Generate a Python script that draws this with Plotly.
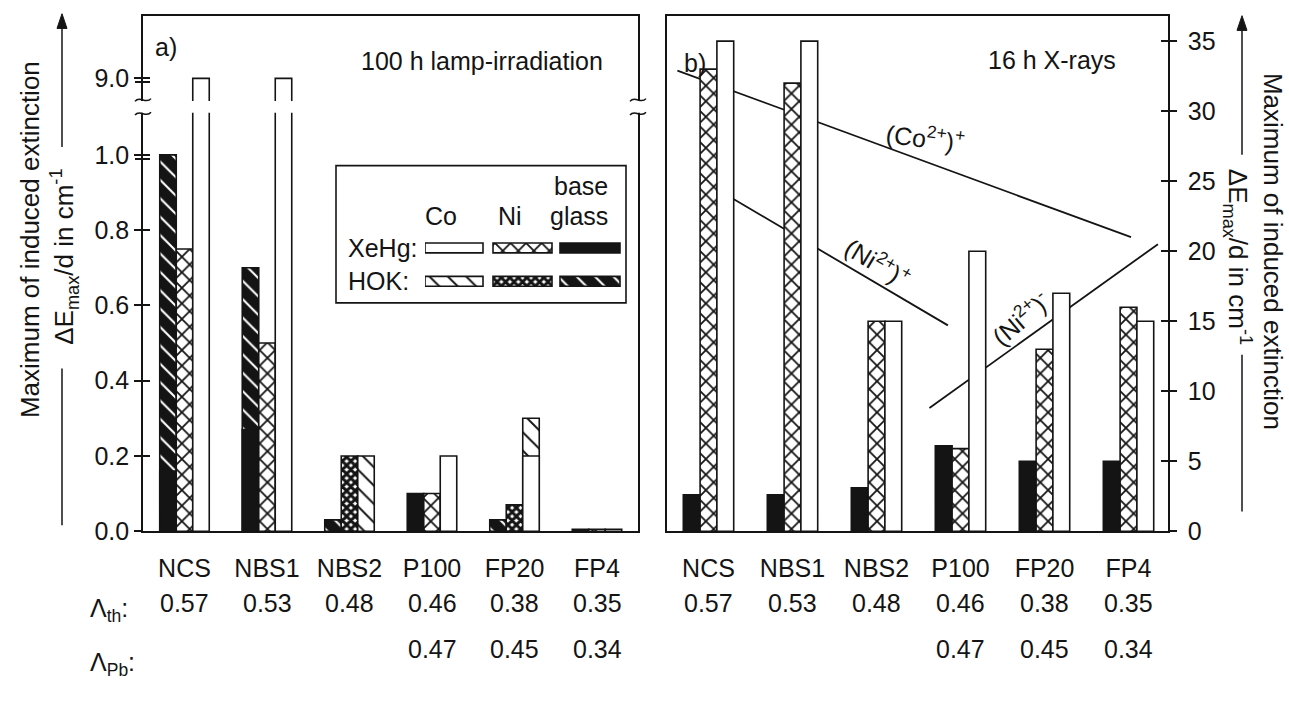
import plotly.graph_objects as go

W, H = 1289, 703

glasses = ["NCS", "NBS1", "NBS2", "P100", "FP20", "FP4"]

# a) 100 h lamp irradiation, maximum induced extinction in cm^-1
lamp_base_hok = [1.00, 0.70, 0.03, None, 0.03, None]
lamp_base_xehg = [0.16, 0.27, None, 0.10, None, 0.005]
lamp_ni_hok = [None, None, 0.20, None, 0.07, None]
lamp_ni_xehg = [0.75, 0.50, None, 0.10, None, 0.005]
lamp_co_hok = [None, None, 0.20, None, 0.30, None]
lamp_co_xehg = [9.0, 9.0, None, 0.20, 0.20, 0.005]

# b) 16 h X-rays, maximum induced extinction in cm^-1
xray_base = [2.6, 2.6, 3.1, 6.1, 5.0, 5.0]
xray_ni = [33.0, 32.0, 15.0, 5.9, 13.0, 16.0]
xray_co = [35.0, 35.0, 15.0, 20.0, 17.0, 15.0]

# optical basicity rows under the glass names
lambda_th = ["0.57", "0.53", "0.48", "0.46", "0.38", "0.35"]
lambda_pb = [None, None, None, "0.47", "0.45", "0.34"]

left_ticks = [0.0, 0.2, 0.4, 0.6, 0.8, 1.0, 9.0]
right_ticks = [0, 5, 10, 15, 20, 25, 30, 35]

# straight guide lines in panel b): end points (glass position, value)
co_plus_x = [-0.37, 5.03]
co_plus_y = [32.9, 21.0]
ni_plus_x = [0.05, 2.85]
ni_plus_y = [24.6, 14.7]
ni_minus_x = [2.63, 5.35]
ni_minus_y = [8.8, 20.5]

# ---------------------------------------------------------------- geometry
FONT = "Liberation Sans, Arial, Helvetica, sans-serif"
FS = 25
INK = "#141414"

PX_AXIS_BOTTOM, PX_TOP = 542, 16
LEFT_PX_PER_UNIT = 384.0
RIGHT_PX_PER_UNIT = 500.0 / 35.0

# broken left axis: 0..1 linear, then the segment around 9.0
LOW_TOP = 1.0
NINE_POS = (PX_AXIS_BOTTOM - 80) / LEFT_PX_PER_UNIT
BREAK_PX = (103, 115)


def broken(v):
    if v is None:
        return None
    return v if v <= LOW_TOP else NINE_POS + (v - 9.0)


def px(x):
    return x / W


def py(y):
    return 1 - y / H


Y_DOMAIN = [py(PX_AXIS_BOTTOM), py(PX_TOP)]
LEFT_RANGE = [0, (PX_AXIS_BOTTOM - PX_TOP) / LEFT_PX_PER_UNIT]
RIGHT_RANGE = [0, (PX_AXIS_BOTTOM - PX_TOP) / RIGHT_PX_PER_UNIT]

# fills: XeHg lamp (plain) and HOK lamp (hatched) for Co, Ni and base glass
STYLE = {
    "co_xehg": dict(color="white"),
    "ni_xehg": dict(color="white", pattern=dict(shape="x", fgcolor=INK, bgcolor="white",
                                                 size=11, solidity=0.3, fgopacity=1)),
    "base_xehg": dict(color=INK),
    "co_hok": dict(color="white", pattern=dict(shape="\\", fgcolor=INK, bgcolor="white",
                                                size=13, solidity=0.15, fgopacity=1)),
    "ni_hok": dict(color=INK, pattern=dict(shape="x", fgcolor=INK, bgcolor="white",
                                            size=6, solidity=0.75, fgopacity=1)),
    "base_hok": dict(color=INK, pattern=dict(shape="\\", fgcolor="white", bgcolor=INK,
                                              size=13, solidity=0.16, fgopacity=1)),
}
OFFSET = {"base": -0.3, "ni": -0.1, "co": 0.1}
BAR_W = 0.2

fig = go.Figure()


def add_bars(values, slot, style, xa, ya, transform=None):
    yv = [transform(v) for v in values] if transform else values
    fig.add_trace(go.Bar(
        x=glasses, y=yv, customdata=values, offset=OFFSET[slot], width=BAR_W,
        xaxis=xa, yaxis=ya, showlegend=False,
        marker=dict(**STYLE[style], line=dict(color=INK, width=1.6)),
        hovertemplate="%{x}: %{customdata}<extra></extra>",
    ))


# panel a) -- HOK drawn first, XeHg drawn over it
add_bars(lamp_base_hok, "base", "base_hok", "x", "y", broken)
add_bars(lamp_base_xehg, "base", "base_xehg", "x", "y", broken)
add_bars(lamp_ni_hok, "ni", "ni_hok", "x", "y", broken)
add_bars(lamp_ni_xehg, "ni", "ni_xehg", "x", "y", broken)
add_bars(lamp_co_hok, "co", "co_hok", "x", "y", broken)
add_bars(lamp_co_xehg, "co", "co_xehg", "x", "y", broken)

# panel b)
add_bars(xray_base, "base", "base_xehg", "x2", "y2")
add_bars(xray_ni, "ni", "ni_xehg", "x2", "y2")
add_bars(xray_co, "co", "co_xehg", "x2", "y2")

# empty traces so the extra tick axes are drawn
for ya, xa in (("y3", "x"), ("y6", "x"), ("y4", "x2")):
    fig.add_trace(go.Scatter(x=[None], y=[None], xaxis=xa, yaxis=ya,
                             showlegend=False, hoverinfo="skip"))

# key swatches (Co, Ni, base glass) x (XeHg, HOK)
KEY_COLS = {"co": (425, 483), "ni": (493, 552), "base": (560, 620)}
KEY_ROWS = {"xehg": 253, "hok": 287}
for row, yc in KEY_ROWS.items():
    for col, (x0, x1) in KEY_COLS.items():
        fig.add_trace(go.Bar(
            orientation="h", y=[yc], x=[x1 - x0], base=[x0], width=[10],
            xaxis="x3", yaxis="y5", showlegend=False, hoverinfo="skip",
            marker=dict(**STYLE[f"{col}_{row}"], line=dict(color=INK, width=1.6)),
        ))

# ---------------------------------------------------------------- axes
tick_font = dict(family=FONT, size=FS, color=INK)
left_vals = [broken(v) for v in left_ticks]
left_text = [f"{v:.1f}" for v in left_ticks]
# second stroke of the doubled ticks at both ends of the break
dbl = 4.0 / LEFT_PX_PER_UNIT
left_double = [broken(1.0) - dbl, NINE_POS - dbl]

common_line = dict(showline=True, linecolor=INK, linewidth=1.6, showgrid=False,
                   zeroline=False)
bare_ticks = dict(ticklen=7, tickwidth=1.6, tickcolor=INK, showticklabels=False,
                  showline=False, showgrid=False, zeroline=False, fixedrange=True)

fig.update_layout(
    width=W, height=H, margin=dict(l=0, r=0, t=0, b=0),
    paper_bgcolor="white", plot_bgcolor="white",
    barmode="overlay", showlegend=False,
    font=dict(family=FONT, size=FS, color=INK),
    xaxis=dict(domain=[px(143), px(638)], range=[-0.503, 5.497], type="category",
               anchor="y", mirror=True, ticks="", tickfont=tick_font,
               ticklabelstandoff=14, fixedrange=True, **common_line),
    yaxis=dict(domain=Y_DOMAIN, range=LEFT_RANGE, anchor="x", mirror=True,
               ticks="outside", ticklen=7, tickwidth=1.6, tickcolor=INK,
               tickvals=left_vals, ticktext=left_text, tickfont=tick_font,
               fixedrange=True, **common_line),
    yaxis3=dict(range=LEFT_RANGE, overlaying="y", anchor="x", side="left",
                ticks="inside", tickvals=left_vals + left_double, **bare_ticks),
    yaxis6=dict(range=LEFT_RANGE, overlaying="y", anchor="x", side="left",
                ticks="outside", tickvals=left_double, **bare_ticks),
    xaxis2=dict(domain=[px(667), px(1168)], range=[-0.494, 5.470], type="category",
                anchor="y2", mirror=True, ticks="", tickfont=tick_font,
                ticklabelstandoff=14, fixedrange=True, **common_line),
    yaxis2=dict(domain=Y_DOMAIN, range=RIGHT_RANGE, anchor="x2", side="right",
                mirror=True, ticks="outside", ticklen=7, tickwidth=1.6, tickcolor=INK,
                tickvals=right_ticks, tickfont=tick_font, ticklabelstandoff=6,
                fixedrange=True, **common_line),
    yaxis4=dict(range=RIGHT_RANGE, overlaying="y2", anchor="x2", side="right",
                ticks="inside", tickvals=right_ticks, **bare_ticks),
    xaxis3=dict(domain=[px(425), px(621)], range=[425, 621], anchor="y5",
                visible=False, fixedrange=True),
    yaxis5=dict(domain=[py(300), py(240)], range=[300, 240], anchor="x3",
                visible=False, fixedrange=True),
)

# ---------------------------------------------------------------- shapes
shapes = []
for xs, ys in ((co_plus_x, co_plus_y), (ni_plus_x, ni_plus_y), (ni_minus_x, ni_minus_y)):
    shapes.append(dict(type="line", xref="x2", yref="y2", x0=xs[0], y0=ys[0],
                       x1=xs[1], y1=ys[1], layer="below",
                       line=dict(color=INK, width=1.8)))

# gap of the broken axis in panel a)
shapes.append(dict(type="rect", xref="paper", yref="paper",
                   x0=px(130), x1=px(650), y0=py(BREAK_PX[1]), y1=py(BREAK_PX[0]),
                   fillcolor="white", line=dict(width=0), layer="above"))


def tilde(xc, yc, half=8, amp=3.5):
    pts = [(xc - half, yc + amp * 0.4), (xc - half * 0.4, yc - amp * 1.4),
           (xc + half * 0.4, yc + amp * 1.4), (xc + half, yc - amp * 0.4)]
    (a, b, c, d) = [(px(x), py(y)) for x, y in pts]
    return f"M{a[0]},{a[1]} C{b[0]},{b[1]} {c[0]},{c[1]} {d[0]},{d[1]}"


for xc in (143, 638):
    for yc in (BREAK_PX[0] - 1, BREAK_PX[1] + 1):
        shapes.append(dict(type="path", xref="paper", yref="paper", path=tilde(xc, yc),
                           line=dict(color=INK, width=1.5), layer="above"))

# key frame
shapes.append(dict(type="rect", xref="paper", yref="paper", x0=px(336), x1=px(626),
                   y0=py(309), y1=py(169), line=dict(color=INK, width=1.6),
                   layer="above"))

# lines and arrows completing the axis titles
for x, y0, y1 in ((62, 376, 536), (1242, 362, 522)):
    shapes.append(dict(type="line", xref="paper", yref="paper", x0=px(x), x1=px(x),
                       y0=py(y0), y1=py(y1), line=dict(color=INK, width=1.5)))
for x, tail, head in ((62, 150, 14), (1242, 158, 16)):
    shapes.append(dict(type="line", xref="paper", yref="paper", x0=px(x), x1=px(x),
                       y0=py(tail), y1=py(head + 10), line=dict(color=INK, width=1.5)))
    tri = [(x, head), (x - 5, head + 15), (x + 5, head + 15)]
    p = " L".join(f"{px(a)},{py(b)}" for a, b in tri)
    shapes.append(dict(type="path", xref="paper", yref="paper", path=f"M{p} Z",
                       fillcolor=INK, line=dict(color=INK, width=1)))

fig.update_layout(shapes=shapes)

# ---------------------------------------------------------------- text
ann = []


def text(x, y, s, size=FS, angle=0, xanchor="center"):
    ann.append(dict(x=px(x), y=py(y), xref="paper", yref="paper", text=s,
                    showarrow=False, textangle=angle, xanchor=xanchor, yanchor="middle",
                    font=dict(family=FONT, size=size, color=INK)))


text(166, 48, "a)")
text(482, 62, "100 h lamp-irradiation")
text(695, 64, "b)")
text(1052, 61, "16 h X-rays")

text(925, 140, "(Co<sup>2+</sup>)<sup>+</sup>", angle=7)
text(878, 267, "(Ni<sup>2+</sup>)<sup>+</sup>", angle=31)
text(1020, 324, "(Ni<sup>2+</sup>)<sup>-</sup>", angle=-40)

# key labels
text(610, 190, "base", xanchor="right")
text(610, 220, "glass", xanchor="right")
text(441, 220, "Co")
text(510, 220, "Ni")
text(346, KEY_ROWS["xehg"], "XeHg:", xanchor="left")
text(346, KEY_ROWS["hok"], "HOK:", xanchor="left")

# axis titles
text(30, 245, "Maximum of induced extinction", size=26, angle=-90)
text(64, 262, "ΔE<sub>max</sub>/d in cm<sup>-1</sup>", size=26, angle=-90)
text(1273, 256, "Maximum of induced extinction", size=26, angle=90)
text(1238, 262, "ΔE<sub>max</sub>/d in cm<sup>-1</sup>", size=26, angle=90)

# basicity rows
text(88, 622, "Λ<sub>th</sub>:", xanchor="left")
text(88, 678, "Λ<sub>Pb</sub>:", xanchor="left")
for i, (th, pb) in enumerate(zip(lambda_th, lambda_pb)):
    for xr in ("x", "x2"):
        ann.append(dict(x=i, y=py(632), xref=xr, yref="paper", text=th, showarrow=False,
                        font=dict(family=FONT, size=FS, color=INK)))
        if pb:
            ann.append(dict(x=i, y=py(679), xref=xr, yref="paper", text=pb,
                            showarrow=False, font=dict(family=FONT, size=FS, color=INK)))

fig.update_layout(annotations=ann)

fig.write_html("out.html")
